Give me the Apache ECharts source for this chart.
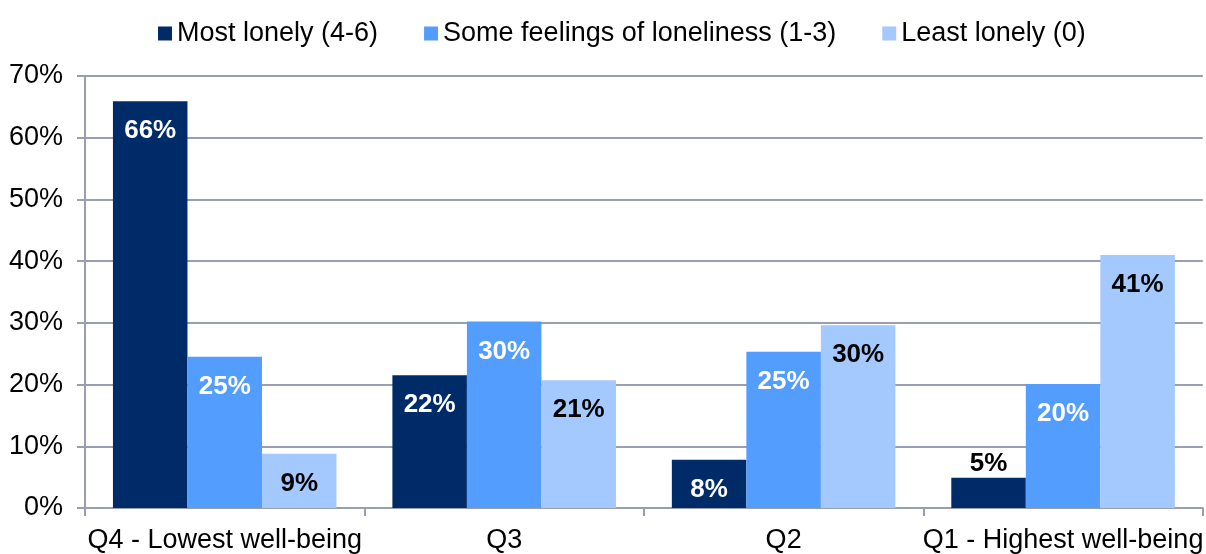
<!DOCTYPE html>
<html>
<head>
<meta charset="utf-8">
<script src="https://cdn.jsdelivr.net/npm/echarts@6/dist/echarts.min.js"></script>
<style>
    html, body {
        margin: 0;
        padding: 0;
        background: #fff;
    }
    #chart {
        width: 1206px;
        height: 554px;
    }
</style>
</head>
<body>
<div id="chart"></div>
<script>
const categories = ["Q4 - Lowest well-being", "Q3", "Q2", "Q1 - Highest well-being"];
const seriesNames = ["Most lonely (4-6)", "Some feelings of loneliness (1-3)", "Least lonely (0)"];
const mostLonely = [65.9, 21.5, 7.8, 4.9];
const someLonely = [24.5, 30.2, 25.3, 20.1];
const leastLonely = [8.8, 20.7, 29.6, 41.0];
const yTicks = [0, 10, 20, 30, 40, 50, 60, 70];

const colors = ["#002b69", "#539dff", "#a3c9ff"];
const labelColors = ["#ffffff", "#ffffff", "#000000"];
const axisColor = "#9a9eb2";
const fontFamily = "'Liberation Sans', Arial, sans-serif";

const chart = echarts.init(document.getElementById("chart"));

function barSeries(name, data, idx) {
    return {
        type: "bar",
        name: name,
        data: data.map(v => {
            // very short bars get their label above the bar
            if (v < 6) {
                return {
                    value: v,
                    label: { position: "top", distance: 1, color: "#000000" },
                };
            }
            return v;
        }),
        barGap: "0%",
        barCategoryGap: "20%",
        itemStyle: { color: colors[idx] },
        label: {
            show: true,
            position: "insideTop",
            distance: 17,
            color: labelColors[idx],
            fontFamily: fontFamily,
            fontWeight: "bold",
            fontSize: 26,
            formatter: p => Math.round(p.value) + "%",
        },
    };
}

chart.setOption({
    animation: false,
    textStyle: { fontFamily: fontFamily },
    legend: {
        top: 15,
        left: 153,
        itemWidth: 14,
        itemHeight: 14,
        itemGap: 46,
        icon: "rect",
        textStyle: { fontSize: 27, color: "#000", fontFamily: fontFamily },
        data: seriesNames,
    },
    grid: {
        left: 85,
        right: 0,
        top: 76,
        bottom: 45,
        containLabel: false,
    },
    xAxis: {
        type: "category",
        data: categories,
        axisLine: { show: true, lineStyle: { color: axisColor, width: 2 } },
        axisTick: { show: true, length: 8, lineStyle: { color: axisColor, width: 2 } },
        axisLabel: { fontSize: 27, color: "#000", margin: 19, interval: 0 },
    },
    yAxis: {
        type: "value",
        min: yTicks[0],
        max: yTicks[yTicks.length - 1],
        interval: 10,
        axisLine: { show: true, lineStyle: { color: axisColor, width: 2 } },
        axisTick: { show: true, length: 8, lineStyle: { color: axisColor, width: 2 } },
        axisLabel: {
            fontSize: 27,
            color: "#000",
            margin: 22,
            formatter: v => v + "%",
        },
        splitLine: { show: true, lineStyle: { color: axisColor, width: 2 } },
    },
    series: [
        barSeries(seriesNames[0], mostLonely, 0),
        barSeries(seriesNames[1], someLonely, 1),
        barSeries(seriesNames[2], leastLonely, 2),
    ],
});
</script>
</body>
</html>
